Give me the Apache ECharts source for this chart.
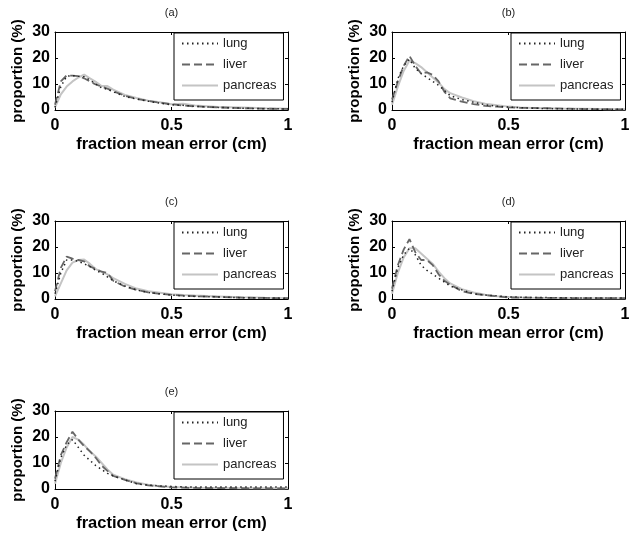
<!DOCTYPE html>
<html>
<head>
<meta charset="utf-8">
<script src="https://cdn.jsdelivr.net/npm/echarts@6/dist/echarts.min.js"></script>
<style>html,body{margin:0;padding:0;background:#fff;}#chart{width:633px;height:539px;}</style>
</head>
<body>
<div id="chart"></div>
<script>
// ---- data ----
const xs = [0, 0.025, 0.05, 0.075, 0.1, 0.125, 0.15, 0.175, 0.2, 0.225, 0.25, 0.3, 0.35, 0.4, 0.45, 0.5, 0.55, 0.6, 0.7, 0.8, 0.9, 1];
const seriesNames = ['lung', 'liver', 'pancreas'];
const panelTitles = ['(a)', '(b)', '(c)', '(d)', '(e)'];
const xTicks = [0, 0.5, 1];
const yTicks = [0, 10, 20, 30];

const aLung     = [1, 9, 13, 13.2, 13, 12.8, 11.5, 10, 8.5, 8, 7, 5.2, 4.2, 3.4, 2.6, 2, 1.8, 1.4, 1, 0.7, 0.5, 0.4];
const aLiver    = [2, 11, 13.3, 13.2, 13, 12.2, 11, 9.8, 9, 8.2, 7.2, 5.5, 4.3, 3.5, 2.8, 2.2, 1.7, 1.4, 1, 0.7, 0.5, 0.4];
const aPancreas = [1, 6, 9, 11, 12.5, 13.6, 12.2, 10.8, 9.2, 9.2, 7.8, 5.8, 4.6, 3.6, 3, 2.2, 2.4, 1.7, 1.2, 1, 0.7, 0.5];

const bLung     = [3, 12, 17, 19.5, 16, 14, 12.5, 11, 9.5, 7.5, 5.5, 4, 3, 2, 1.5, 1.1, 0.9, 0.7, 0.5, 0.4, 0.3, 0.3];
const bLiver    = [4, 11, 17, 20.8, 17, 14, 14.5, 13.5, 11, 7, 4.5, 3.2, 2.3, 1.6, 1.3, 1, 0.8, 0.8, 0.6, 0.4, 0.3, 0.2];
const bPancreas = [2, 9, 15, 19, 18, 16.5, 14.5, 12.5, 10.5, 8, 6.5, 4.8, 3.4, 2.4, 1.8, 1.3, 1, 0.8, 0.6, 0.5, 0.4, 0.3];

const cLung     = [2, 10, 15, 15, 14.5, 13.5, 12.5, 11, 10, 8.5, 7, 5, 3.5, 2.5, 2, 1.5, 1.2, 1, 0.8, 0.5, 0.4, 0.3];
const cLiver    = [3, 12, 16.3, 15.5, 15, 14.5, 12.5, 11.5, 10.5, 10, 7, 4.8, 3.5, 2.5, 2, 1.6, 1.3, 1.1, 0.8, 0.5, 0.4, 0.3];
const cPancreas = [1, 6, 11, 14, 15, 15.2, 13.5, 11.5, 10.5, 9.5, 8, 5.8, 4, 3, 2.4, 1.8, 1.5, 1.3, 1, 0.7, 0.5, 0.4];

const dLung     = [3, 12, 17, 19.5, 17, 13, 11, 9.5, 8, 6.5, 5, 3.5, 2, 1.5, 1.2, 0.8, 0.7, 0.6, 0.5, 0.4, 0.4, 0.4];
const dLiver    = [4, 13, 19, 23, 18, 15, 15, 13, 9.5, 7, 5.5, 3, 2, 1.5, 1, 0.6, 0.5, 0.5, 0.4, 0.3, 0.3, 0.3];
const dPancreas = [2, 10, 16, 19.5, 19.5, 17.5, 15.5, 13.5, 10.5, 8, 6, 3.8, 2.5, 1.6, 1.1, 0.8, 0.6, 0.5, 0.4, 0.3, 0.3, 0.3];

const eLung     = [3, 12, 17, 19, 16, 13, 11, 9, 7.5, 6, 5, 3.5, 2, 1.5, 1.2, 1, 0.8, 0.8, 0.8, 0.8, 0.8, 0.8];
const eLiver    = [4, 13, 18, 22, 19, 16.5, 14.5, 12, 9, 7, 5, 3.5, 2.2, 1.4, 1, 0.6, 0.5, 0.4, 0.3, 0.3, 0.2, 0.2];
const ePancreas = [2, 10, 16, 20, 19, 17, 14.5, 12.5, 10, 7.5, 5.5, 3.8, 2.5, 1.6, 1.1, 0.8, 0.6, 0.5, 0.4, 0.3, 0.3, 0.3];

const panelData = [
  [aLung, aLiver, aPancreas],
  [bLung, bLiver, bPancreas],
  [cLung, cLiver, cPancreas],
  [dLung, dLiver, dPancreas],
  [eLung, eLiver, ePancreas]
];

// ---- layout ----
const layout = [
  {left: 55, top: 32}, {left: 392, top: 32},
  {left: 55, top: 221}, {left: 392, top: 221},
  {left: 55, top: 411}
];
const GW = 233, GH = 78;
const FONT = '"Liberation Sans", Arial, Helvetica, sans-serif';
const styles = [
  {color: '#222', width: 1.5, type: [1.5, 3.5]},
  {color: '#666', width: 1.8, type: [8, 4]},
  {color: '#c4c4c4', width: 2, type: 'solid'}
];

const grid = [], xAxis = [], yAxis = [], series = [], legend = [], graphic = [];
layout.forEach((p, i) => {
  grid.push({left: p.left, top: p.top, width: GW, height: GH, containLabel: false});
  const axLine = {show: true, onZero: false, lineStyle: {color: '#000', width: 1}};
  const tick = {show: true, inside: true, length: 3, lineStyle: {color: '#000'}};
  xAxis.push({
    type: 'value', gridIndex: i, position: 'bottom', min: xTicks[0], max: xTicks[xTicks.length - 1], interval: 0.5,
    axisLine: axLine, axisTick: tick, splitLine: {show: false},
    axisLabel: {margin: 8, fontFamily: FONT, fontSize: 16, fontWeight: 'bold', color: '#000'},
    name: 'fraction mean error (cm)', nameLocation: 'middle', nameGap: 26,
    nameTextStyle: {fontFamily: FONT, fontSize: 16.5, fontWeight: 'bold', color: '#000'}
  });
  xAxis.push({
    type: 'value', gridIndex: i, position: 'top', min: xTicks[0], max: xTicks[xTicks.length - 1], interval: 0.5,
    axisLine: axLine, axisTick: tick, splitLine: {show: false}, axisLabel: {show: false}
  });
  yAxis.push({
    type: 'value', gridIndex: i, position: 'left', min: yTicks[0], max: yTicks[yTicks.length - 1], interval: 10,
    axisLine: axLine, axisTick: tick, splitLine: {show: false},
    axisLabel: {margin: 5, fontFamily: FONT, fontSize: 16, fontWeight: 'bold', color: '#000'},
    name: 'proportion (%)', nameLocation: 'middle', nameGap: 30, nameRotate: 90,
    nameTextStyle: {fontFamily: FONT, fontSize: 15, fontWeight: 'bold', color: '#000'}
  });
  yAxis.push({
    type: 'value', gridIndex: i, position: 'right', min: yTicks[0], max: yTicks[yTicks.length - 1], interval: 10,
    axisLine: axLine, axisTick: tick, splitLine: {show: false}, axisLabel: {show: false}
  });
  panelData[i].forEach((vals, k) => {
    series.push({
      type: 'line', name: seriesNames[k], xAxisIndex: 2 * i, yAxisIndex: 2 * i,
      data: xs.map((x, j) => [x, vals[j]]),
      symbol: 'none', showSymbol: false,
      lineStyle: {color: styles[k].color, width: styles[k].width, type: styles[k].type},
      itemStyle: {color: styles[k].color},
      z: 3 - k
    });
  });
  legend.push({
    data: seriesNames, orient: 'vertical', left: p.left + 119, top: p.top + 1,
    itemWidth: 36, itemHeight: 14, itemGap: 8, padding: [4, 7, 8, 7],
    borderColor: '#000', borderWidth: 1, backgroundColor: '#fff',
    itemStyle: {opacity: 0},
    textStyle: {fontFamily: FONT, fontSize: 13, color: '#222'},
    selectedMode: false
  });
  graphic.push({
    type: 'text', x: p.left + GW / 2, y: p.top - 19,
    style: {text: panelTitles[i], textAlign: 'center', textVerticalAlign: 'middle', fontFamily: FONT, fontSize: 11, fill: '#222'}
  });
});

const chart = echarts.init(document.getElementById('chart'), null, {renderer: 'canvas'});
chart.setOption({animation: false, backgroundColor: '#fff', grid, xAxis, yAxis, series, legend, graphic});
</script>
</body>
</html>
